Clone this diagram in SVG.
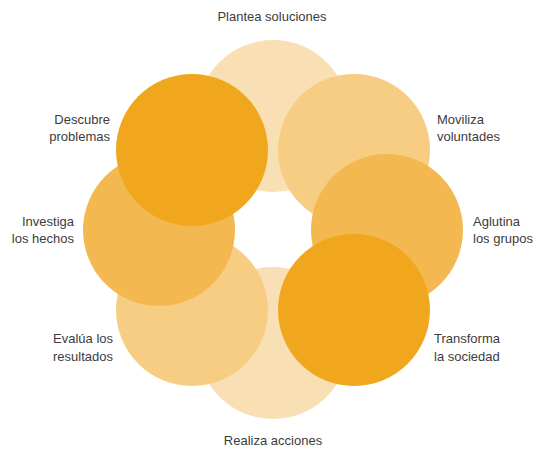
<svg xmlns="http://www.w3.org/2000/svg" width="543" height="450" viewBox="0 0 543 450">
<style>
.t{font-family:"Liberation Sans","Open Sans",Arial,sans-serif;font-size:13px;fill:#3c3c3c}
.c1{fill:#F9E0B4}.c2{fill:#F6CD82}.c3{fill:#F3B84F}.c4{fill:#F0A71E}
</style>
<rect width="543" height="450" fill="#ffffff"/>
<g id="plantea"><circle class="c1" cx="273" cy="116" r="76"/><text class="t" x="272" y="21" text-anchor="middle">Plantea soluciones</text></g>
<g id="realiza"><circle class="c1" cx="273" cy="343" r="76"/><text class="t" x="273" y="445" text-anchor="middle">Realiza acciones</text></g>
<g id="moviliza"><circle class="c2" cx="354" cy="150" r="76"/><text class="t" x="437" y="124">Moviliza</text><text class="t" x="437" y="141">voluntades</text></g>
<g id="evalua"><circle class="c2" cx="192" cy="310" r="76"/><text class="t" x="113" y="343" text-anchor="end">Evalúa los</text><text class="t" x="113" y="361" text-anchor="end">resultados</text></g>
<g id="aglutina"><circle class="c3" cx="387" cy="230" r="76"/><text class="t" x="473" y="226">Aglutina</text><text class="t" x="473" y="243">los grupos</text></g>
<g id="investiga"><circle class="c3" cx="159" cy="230" r="76"/><text class="t" x="74" y="226" text-anchor="end">Investiga</text><text class="t" x="74" y="243" text-anchor="end">los hechos</text></g>
<g id="transforma"><circle class="c4" cx="354" cy="310" r="76"/><text class="t" x="434" y="343">Transforma</text><text class="t" x="434" y="361">la sociedad</text></g>
<g id="descubre"><circle class="c4" cx="192" cy="150" r="76"/><text class="t" x="110" y="124" text-anchor="end">Descubre</text><text class="t" x="110" y="141" text-anchor="end">problemas</text></g>
<g id="connectors"></g>
</svg>
